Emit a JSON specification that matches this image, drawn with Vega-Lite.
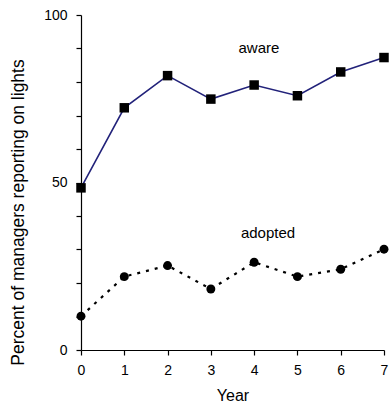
{
  "$schema": "https://vega.github.io/schema/vega-lite/v6.json",
  "width": 303,
  "height": 335,
  "autosize": "none",
  "padding": {"left": 81, "top": 15, "right": 7, "bottom": 67},
  "background": "white",
  "config": {
    "view": {"stroke": null},
    "font": "Liberation Sans",
    "axis": {"grid": false, "domainColor": "black", "tickColor": "black", "labelColor": "black", "titleColor": "black", "labelFont": "Liberation Sans", "titleFont": "Liberation Sans", "labelFontSize": 14, "titleFontSize": 16, "titleFontWeight": "normal", "tickSize": 5, "domainWidth": 1.2, "tickWidth": 1.2, "labelOverlap": false},
    "axisY": {"labelOverlap": false},
    "axisQuantitative": {"labelOverlap": false}
  },
  "datasets": {
    "series": [
      {"year": 0, "pct": 48.4, "series": "aware"},
      {"year": 1, "pct": 72.3, "series": "aware"},
      {"year": 2, "pct": 81.9, "series": "aware"},
      {"year": 3, "pct": 74.9, "series": "aware"},
      {"year": 4, "pct": 79.1, "series": "aware"},
      {"year": 5, "pct": 75.9, "series": "aware"},
      {"year": 6, "pct": 83.0, "series": "aware"},
      {"year": 7, "pct": 87.3, "series": "aware"},
      {"year": 0, "pct": 10.1, "series": "adopted"},
      {"year": 1, "pct": 21.9, "series": "adopted"},
      {"year": 2, "pct": 25.2, "series": "adopted"},
      {"year": 3, "pct": 18.2, "series": "adopted"},
      {"year": 4, "pct": 26.2, "series": "adopted"},
      {"year": 5, "pct": 21.9, "series": "adopted"},
      {"year": 6, "pct": 24.1, "series": "adopted"},
      {"year": 7, "pct": 30.1, "series": "adopted"}
    ],
    "labels": [
      {"label": "aware", "year": 4.11, "pct": 90.1},
      {"label": "adopted", "year": 4.32, "pct": 35}
    ]
  },
  "encoding": {
    "x": {"field": "year", "type": "quantitative", "scale": {"domain": [0, 7], "nice": false}, "axis": {"values": [0,1,2,3,4,5,6,7], "title": "Year", "labelPadding": 8, "titlePadding": 10, "labelFlush": false, "labelOverlap": false}},
    "y": {"field": "pct", "type": "quantitative", "scale": {"domain": [0, 100], "nice": false}, "axis": {"values": [0,10,20,30,40,50,60,70,80,90,100], "labelExpr": "datum.value == 0 || datum.value == 50 || datum.value == 100 ? datum.label : ''", "labelOverlap": false, "title": "Percent of managers reporting on lights", "titleFontSize": 17.5, "labelPadding": 9, "titlePadding": 16, "titleY": 197, "labelFlush": false}}
  },
  "layer": [
    {
      "data": {"name": "series"},
      "transform": [{"filter": "datum.series === 'aware'"}],
      "mark": {"type": "line", "color": "#22227a", "strokeWidth": 1.6, "clip": false}
    },
    {
      "data": {"name": "series"},
      "transform": [{"filter": "datum.series === 'adopted'"}],
      "mark": {"type": "line", "color": "black", "strokeWidth": 2.2, "strokeDash": [3, 6], "clip": false}
    },
    {
      "data": {"name": "series"},
      "transform": [{"filter": "datum.series === 'aware'"}],
      "mark": {"type": "point", "shape": "square", "filled": true, "color": "black", "size": 90, "opacity": 1, "clip": false}
    },
    {
      "data": {"name": "series"},
      "transform": [{"filter": "datum.series === 'adopted'"}],
      "mark": {"type": "point", "shape": "circle", "filled": true, "color": "black", "size": 80, "opacity": 1, "clip": false}
    },
    {
      "data": {"name": "labels"},
      "mark": {"type": "text", "fontSize": 15, "color": "black", "align": "center", "baseline": "middle", "font": "Liberation Sans"},
      "encoding": {
        "text": {"field": "label"}
      }
    }
  ]
}
